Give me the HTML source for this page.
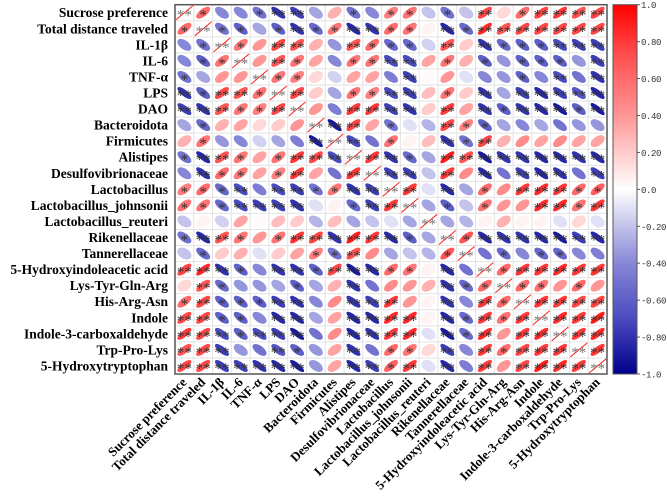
<!DOCTYPE html>
<html><head><meta charset="utf-8"><style>
html,body{margin:0;padding:0;background:#fff;width:667px;height:504px;overflow:hidden}
svg{display:block}
.lab{font-family:"Liberation Serif",serif;font-weight:bold;font-size:13.5px;fill:#000}
.blab{font-family:"Liberation Serif",serif;font-weight:bold;font-size:13px;fill:#000}
.tick{font-family:"Liberation Mono",monospace;font-size:9px;fill:#333;letter-spacing:-0.4px}
.star{font-family:"Liberation Serif",serif;font-size:15px;fill:#333}
</style></head><body>
<svg id="chart" width="667" height="504" xmlns="http://www.w3.org/2000/svg"></svg>
<script>
const variables=["Sucrose preference","Total distance traveled","IL-1β","IL-6","TNF-α","LPS","DAO","Bacteroidota","Firmicutes","Alistipes","Desulfovibrionaceae","Lactobacillus","Lactobacillus_johnsonii","Lactobacillus_reuteri","Rikenellaceae","Tannerellaceae","5-Hydroxyindoleacetic acid","Lys-Tyr-Gln-Arg","His-Arg-Asn","Indole","Indole-3-carboxaldehyde","Trp-Pro-Lys","5-Hydroxytryptophan"];
const corrRows=[
[1,.6,-.4,-.4,-.5,-.8,-.75,-.3,.3,-.5,-.4,.5,.55,-.2,-.5,-.2,.75,.15,.6,.75,.8,.7,.75],
[1,-.5,-.6,-.3,-.6,-.8,-.55,.55,-.85,-.8,.6,.55,.05,-.85,-.55,.85,.7,.75,.75,.75,.75,.75],
[1,.55,.4,.75,.7,.3,-.35,.7,.6,-.55,-.55,-.15,.7,.2,-.8,-.55,-.6,-.6,-.7,-.75,-.75],
[1,.4,.7,.55,.35,-.4,.55,.55,-.7,-.7,.35,.55,.3,-.6,-.35,-.6,-.6,-.6,-.35,-.75],
[1,.55,.5,.15,-.15,.35,.35,-.45,-.75,.02,.4,-.1,-.4,-.35,-.6,-.4,-.7,-.5,-.8],
[1,.75,.2,-.3,.55,.5,-.7,-.75,.25,.55,.2,-.8,-.3,-.75,-.85,-.75,-.65,-.85],
[1,.4,-.45,.8,.8,-.75,-.8,.2,.8,.35,-.8,-.6,-.8,-.85,-.9,-.6,-.9],
[1,-.9,.75,.35,-.5,-.1,-.25,.75,.5,-.6,-.3,-.4,-.3,-.5,-.35,-.35],
[1,-.7,-.5,.55,.05,.25,-.8,-.5,.75,.3,.45,.35,.45,.35,.35],
[1,.8,-.8,-.55,-.3,.9,.7,-.9,-.8,-.8,-.85,-.85,-.8,-.85],
[1,-.75,-.75,-.2,.8,.45,-.85,-.5,-.75,-.85,-.8,-.5,-.75],
[1,.8,-.1,-.85,-.3,.6,.45,.8,.85,.8,.6,.65],
[1,-.3,-.6,-.2,.55,.4,.4,.85,.85,.55,.8],
[1,-.3,-.25,.05,.3,.05,.05,-.1,.15,-.1],
[1,.7,-.85,-.8,-.8,-.85,-.9,-.75,-.85],
[1,-.5,-.55,-.4,-.55,-.55,-.4,-.45],
[1,.6,.8,.8,.85,.8,.8],
[1,.6,.55,.4,.6,.4],
[1,.8,.8,.75,.75],
[1,.85,.8,.9],
[1,.8,.85],
[1,.8],
[1]];
const sigRows=[
['**','*','','','*','**','**','','','*','','*','*','','*','','**','','*','**','**','**','**'],
['**','*','*','','*','**','*','*','**','**','*','*','','**','*','**','**','**','**','**','**','**'],
['**','*','','**','**','','','**','*','*','*','','**','','**','*','*','*','**','**','**'],
['**','','**','*','','','*','*','**','**','','*','','*','','*','*','*','','**'],
['**','*','*','','','','','','**','','','','','','*','','**','','**'],
['**','**','','','*','*','**','**','','*','','**','','**','**','**','**','**'],
['**','','','**','**','**','**','','**','','**','*','**','**','**','*','**'],
['**','**','**','','*','','','**','*','*','','','','','','',''],
['**','**','','*','','','**','*','**','','','','','',''],
['**','**','**','*','','**','**','**','**','**','**','**','**','**'],
['**','**','**','','**','','**','','**','**','**','','**'],
['**','**','','**','','*','','**','**','**','*','*'],
['**','','*','','*','','','**','**','*','**'],
['**','','','','','','','','',''],
['**','*','**','**','**','**','**','**','**'],
['**','','*','','*','*','',''],
['**','*','**','**','**','**','**'],
['**','*','*','','*',''],
['**','**','**','**','**'],
['**','**','**','**'],
['**','**','**'],
['**','**'],
['**']];
const tickValues=[1.0,0.8,0.6,0.4,0.2,0,-0.2,-0.4,-0.6,-0.8,-1.0];
const tickLabels=["1.0","0.80","0.60","0.40","0.20","0.0","-0.20","-0.40","-0.60","-0.80","-1.0"];

const NS="http://www.w3.org/2000/svg";
const svg=document.getElementById('chart');
const N=variables.length;
const X0=175,X1=607,Y0=4.7,Y1=374;
const cw=(X1-X0)/N,ch=(Y1-Y0)/N;
const xc=j=>X0+(j+0.5)*cw, yc=i=>Y0+(i+0.5)*ch;
function val(i,j){return i<=j?corrRows[i][j-i]:corrRows[j][i-j];}
function sig(i,j){return i<=j?sigRows[i][j-i]:sigRows[j][i-j];}
function lerp(a,b,t){return a.map((v,k)=>Math.round(v+(b[k]-v)*t));}
function color(r){
  const pos=[[0,[255,255,255]],[0.4,[255,150,150]],[0.7,[255,85,85]],[1,[255,0,0]]];
  const neg=[[0,[255,255,255]],[0.4,[135,135,215]],[0.7,[75,75,192]],[1,[0,0,140]]];
  const s=r>=0?pos:neg,a=Math.min(1,Math.abs(r));
  for(let k=1;k<s.length;k++){if(a<=s[k][0]){const t=(a-s[k-1][0])/(s[k][0]-s[k-1][0]);const c=lerp(s[k-1][1],s[k][1],t);return `rgb(${c[0]},${c[1]},${c[2]})`;}}
  return 'rgb(255,0,0)';
}
function el(tag,attrs,parent){const e=document.createElementNS(NS,tag);for(const k in attrs)e.setAttribute(k,attrs[k]);(parent||svg).appendChild(e);return e;}

const grid=el('g',{});


for(let k=1;k<N;k++){
  el('line',{x1:X0+k*cw,x2:X0+k*cw,y1:Y0,y2:Y1,stroke:'#e2e2e2','stroke-width':1},grid);
  el('line',{x1:X0,x2:X1,y1:Y0+k*ch,y2:Y0+k*ch,stroke:'#e2e2e2','stroke-width':1},grid);
}
for(let i=0;i<N;i++){for(let j=0;j<N;j++){
  const r=val(i,j),s=sig(i,j),cx=xc(j),cy=yc(i);
  const g=el('g',{});
  
  
  if(i===j){
    el('line',{x1:cx-cw/2+1,y1:cy+ch/2-1,x2:cx+cw/2-1,y2:cy-ch/2+1,stroke:'#ff2020','stroke-width':1},g);
    const t=el('text',{x:cx,y:cy+7,'text-anchor':'middle',class:'star'},g);t.textContent=s;t.style.fill='#777';
  } else {
    const a=Math.abs(r);
    const rx=0.88+0.2*a, ry=0.3+0.42*(1-a);
    const inner=el('g',{transform:`translate(${cx},${cy}) scale(${cw/2*0.95},${ch/2*0.95}) rotate(${r>=0?-45:45})`},g);
    el('ellipse',{cx:0,cy:0,rx:rx,ry:ry,fill:color(r)},inner);
    if(s){const t=el('text',{x:cx,y:cy+7,'text-anchor':'middle',class:'star'},g);t.textContent=s;}
  }
}}
const bd=el('rect',{x:X0,y:Y0,width:X1-X0,height:Y1-Y0,fill:'none',stroke:'#555','stroke-width':1.5});


for(let i=0;i<N;i++){
  const t=el('text',{x:168,y:yc(i)+4.5,'text-anchor':'end',class:'lab'});
  
  
  t.textContent=variables[i];
  const x=xc(i)+3,y=383;
  const u=el('text',{x:x,y:y,'text-anchor':'end',class:'blab',transform:`rotate(-45 ${x} ${y})`});
  
  
  u.textContent=variables[i];
}
const defs=el('defs',{});
const lg=el('linearGradient',{id:'cb',x1:0,y1:0,x2:0,y2:1},defs);
for(let k=0;k<=20;k++){const v=1-k/10;el('stop',{offset:(k/20),'stop-color':color(v)},lg);}
const cb=el('rect',{x:613,y:Y0,width:24,height:Y1-Y0,fill:'url(#cb)',stroke:'#555','stroke-width':1});


tickValues.forEach((v,k)=>{
  const y=Y0+(1-v)/2*(Y1-Y0);
  el('line',{x1:637,x2:640,y1:y,y2:y,stroke:'#555','stroke-width':1});
  const t=el('text',{x:641,y:y+3.5,class:'tick'});
  
  
  t.textContent=tickLabels[k];
});
</script>
</body></html>
